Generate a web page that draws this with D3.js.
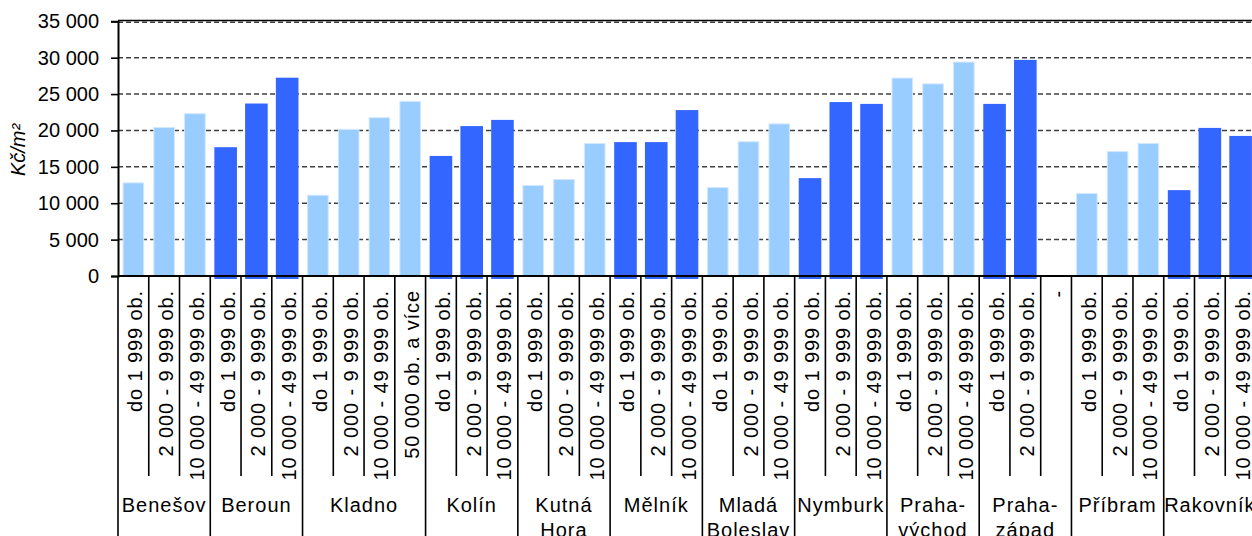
<!DOCTYPE html>
<html lang="cs">
<head>
<meta charset="utf-8">
<script src="https://cdn.jsdelivr.net/npm/d3@7"></script>
<style>
  html, body { margin: 0; padding: 0; background: #fff; }
  svg { display: block; font-family: "Liberation Sans", Arial, sans-serif; }
</style>
</head>
<body>
<svg id="chart" width="1252" height="536"></svg>
<script>
// Okresy (districts) and their label lines
const districts = ["Benešov", "Beroun", "Kladno", "Kolín", "Kutná Hora", "Mělník",
                   "Mladá Boleslav", "Nymburk", "Praha-východ", "Praha-západ", "Příbram", "Rakovník"];
const districtLines = [["Benešov"], ["Beroun"], ["Kladno"], ["Kolín"], ["Kutná", "Hora"], ["Mělník"],
                       ["Mladá", "Boleslav"], ["Nymburk"], ["Praha-", "východ"], ["Praha-", "západ"],
                       ["Příbram"], ["Rakovník"]];

// Size classes of municipalities
const sizeClasses = ["do 1 999 ob.", "2 000 - 9 999 ob.", "10 000 - 49 999 ob.", "50 000 ob. a více"];
const standardClasses = sizeClasses.slice(0, 3);
const kladnoClasses = sizeClasses.slice(0, 4);
const prahaZapadClasses = [sizeClasses[0], sizeClasses[1], "-"];

// Average price, Kč/m²
const benesov       = [12800, 20400, 22300];
const beroun        = [17700, 23700, 27250];
const kladno        = [11100, 20150, 21750, 24000];
const kolin         = [16500, 20600, 21450];
const kutnaHora     = [12450, 13250, 18200];
const melnik        = [18400, 18400, 22800];
const mladaBoleslav = [12150, 18450, 20900];
const nymburk       = [13450, 23900, 23650];
const prahaVychod   = [27200, 26400, 29400];
const prahaZapad    = [23650, 29700, null];
const pribram       = [11350, 17100, 18200];
const rakovnik      = [11800, 20350, 19250];

const yTicks = [0, 5000, 10000, 15000, 20000, 25000, 30000, 35000];

const seriesValues = [benesov, beroun, kladno, kolin, kutnaHora, melnik,
                      mladaBoleslav, nymburk, prahaVychod, prahaZapad, pribram, rakovnik];
const seriesClasses = [standardClasses, standardClasses, kladnoClasses, standardClasses, standardClasses,
                       standardClasses, standardClasses, standardClasses, standardClasses, prahaZapadClasses,
                       standardClasses, standardClasses];

const lightBlue = "#99CCFF", darkBlue = "#3366FF";

// Flatten into one row per bar slot
const rows = [];
districts.forEach((d, gi) => {
  seriesValues[gi].forEach((v, ci) => {
    rows.push({ id: gi + "-" + ci, group: gi, cls: seriesClasses[gi][ci], value: v, first: ci === 0 });
  });
});

const svg = d3.select("#chart");
const plotLeft = 118, plotRight = 1256, plotTop = 21.3, plotBottom = 276;

const x = d3.scaleBand().domain(rows.map(r => r.id)).range([plotLeft, plotRight])
  .paddingInner(0.33).paddingOuter(0.165);
const step = x.step();
const slotStart = id => x(id) - (step - x.bandwidth()) / 2;

const y = d3.scaleLinear().domain([0, 35000]).range([plotBottom, plotTop]);

// Dashed gridlines
svg.append("g").selectAll("line").data(yTicks.filter(t => t > 0)).join("line")
  .attr("x1", plotLeft).attr("x2", 1252)
  .attr("y1", d => y(d) + (d === 35000 ? 1 : 0)).attr("y2", d => y(d) + (d === 35000 ? 1 : 0))
  .attr("stroke", "#404040").attr("stroke-width", 1.5).attr("stroke-dasharray", "5,3");

// Top frame line
svg.append("line").attr("x1", plotLeft).attr("x2", 1252)
  .attr("y1", y(35000) - 0.8).attr("y2", y(35000) - 0.8)
  .attr("stroke", "#000").attr("stroke-width", 1.6);

// Bars
const bars = rows.filter(r => r.value != null);
svg.append("g").selectAll("rect").data(bars).join("rect")
  .attr("x", r => r.group % 2 ? x(r.id) - 1 : x(r.id))
  .attr("width", r => r.group % 2 ? x.bandwidth() + 2 : x.bandwidth())
  .attr("y", r => y(r.value))
  .attr("height", r => y(0) - y(r.value) + (r.group % 2 ? 3 : 0))
  .attr("fill", r => r.group % 2 ? darkBlue : lightBlue)
  .attr("stroke", r => r.group % 2 ? "none" : "#D2E8FF")
  .attr("stroke-width", 1);

// Y axis
const yAxis = d3.axisLeft(y).tickValues(yTicks).tickSize(7)
  .tickFormat(d => d3.format(",")(d).replace(/,/g, " "));
const gy = svg.append("g").attr("transform", `translate(${plotLeft},0)`).call(yAxis);
gy.select(".domain").attr("stroke", "#000").attr("stroke-width", 2);
gy.selectAll(".tick line").attr("stroke", "#000").attr("stroke-width", 1.6);
gy.selectAll(".tick text").attr("x", -19).attr("font-size", 20).attr("fill", "#000")
  .attr("font-family", "Liberation Sans, Arial, sans-serif");

// X axis baseline
svg.append("line").attr("x1", plotLeft).attr("x2", 1252).attr("y1", y(0)).attr("y2", y(0))
  .attr("stroke", "#000").attr("stroke-width", 2);

// Slot separators: short between size classes, long between districts
const bounds = rows.map(r => ({ xPos: slotStart(r.id), long: r.first }));
bounds.push({ xPos: slotStart(rows[rows.length - 1].id) + step, long: true });
svg.append("g").selectAll("line").data(bounds).join("line")
  .attr("x1", b => b.xPos).attr("x2", b => b.xPos)
  .attr("y1", y(0)).attr("y2", b => b.long ? 536 : 476)
  .attr("stroke", "#000").attr("stroke-width", 1.6);

// Size-class labels (rotated)
svg.append("g").selectAll("text").data(rows).join("text")
  .attr("transform", r => `translate(${x(r.id) + x.bandwidth() / 2 + 9},290) rotate(-90)`)
  .attr("text-anchor", "end")
  .attr("font-size", 20).attr("letter-spacing", 0.9).attr("fill", "#000")
  .text(r => r.cls);

// District labels
const groupG = svg.append("g");
districts.forEach((d, gi) => {
  const ids = rows.filter(r => r.group === gi).map(r => r.id);
  const x0 = slotStart(ids[0]);
  const x1 = slotStart(ids[ids.length - 1]) + step;
  const t = groupG.append("text")
    .attr("x", (x0 + x1) / 2).attr("y", 512)
    .attr("text-anchor", "middle").attr("font-size", 20).attr("letter-spacing", 1).attr("fill", "#000");
  districtLines[gi].forEach((line, li) => {
    t.append("tspan").attr("x", (x0 + x1) / 2).attr("dy", li === 0 ? 0 : 25).text(line);
  });
});

// Y axis title
svg.append("text")
  .attr("transform", "translate(25,150) rotate(-90)")
  .attr("text-anchor", "middle").attr("font-size", 20).attr("font-style", "italic").attr("fill", "#000")
  .text("Kč/m²");
</script>
</body>
</html>
